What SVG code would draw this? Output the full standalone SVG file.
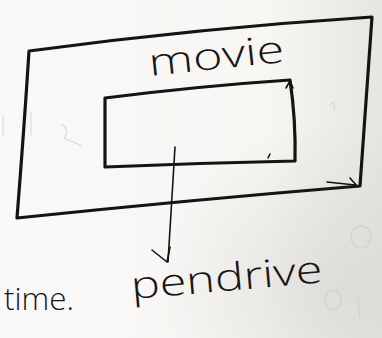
<svg xmlns="http://www.w3.org/2000/svg" width="382" height="338" viewBox="0 0 382 338">
  <defs>
    <linearGradient id="paper" x1="0" y1="0" x2="1" y2="0">
      <stop offset="0" stop-color="#fbf9f8"/>
      <stop offset="0.7" stop-color="#f7f6f3"/>
      <stop offset="1" stop-color="#e6e5df"/>
    </linearGradient>
    <radialGradient id="smudge" cx="0.9" cy="0.85" r="0.5">
      <stop offset="0" stop-color="#d8d6d2" stop-opacity="0.7"/>
      <stop offset="1" stop-color="#d8d6d2" stop-opacity="0"/>
    </radialGradient>
    <style>
      .ink { fill: none; stroke: #141414; stroke-linecap: round; stroke-linejoin: round; }
      .thick { stroke-width: 3.2; }
      .thin { stroke-width: 1.6; }
      .ghost { fill: none; stroke: #c9c6c4; stroke-width: 1.1; stroke-linecap: round; }
      .hand { fill: #161616; font-family: "Open Sans", "Liberation Sans", sans-serif; font-weight: 300; }
    </style>
  </defs>

  <!-- paper -->
  <rect x="0" y="0" width="382" height="338" fill="url(#paper)"/>
  <rect x="0" y="0" width="382" height="338" fill="url(#smudge)"/>

  <!-- faint show-through from the other side of the sheet -->
  <g opacity="0.6">
    <path class="ghost" d="M3 115 L3 135 M31 112 L31 136 M62 124 Q70 130 64 138 L82 146"/>
    <ellipse class="ghost" cx="361" cy="237" rx="10" ry="11"/>
    <ellipse class="ghost" cx="333" cy="300" rx="8" ry="10"/>
    <path class="ghost" d="M358 296 L360 318"/>
    <path class="ghost" d="M330 105 Q336 98 334 110"/>
  </g>

  <!-- outer box: movie -->
  <g id="movie">
    <path class="ink thick" d="M29 51 Q200 28 372 17 Q366 100 360 186 Q190 200 17 218 Q24 130 29 51"/>
    <path class="ink thin" d="M327 182 L355 185 M350 178 L357 186"/>
    <text class="hand" x="150" y="76" font-size="38" textLength="136" lengthAdjust="spacingAndGlyphs" transform="rotate(-6 150 76)">movie</text>
  </g>

  <!-- inner box -->
  <g id="inner">
    <path class="ink thick" d="M105 98 Q200 86 290 80 Q296 120 295 161 Q200 163 105 167 Z"/>
    <path class="ink thin" d="M286 88 L290 81 L293 88 M268 158 L270 154"/>
  </g>

  <!-- connectors -->
  <g id="connectors">
    <path class="ink thin" d="M175 147 L168 262"/>
    <path class="ink thin" d="M152 250 L167 262 L170 247"/>
  </g>

  <!-- labels -->
  <g id="pendrive">
    <text class="hand" x="132" y="299" font-size="38" textLength="192" lengthAdjust="spacingAndGlyphs" transform="rotate(-5 132 299)">pendrive</text>
  </g>
  <g id="time">
    <text class="hand" x="4" y="310" font-size="32" textLength="70" lengthAdjust="spacingAndGlyphs">time.</text>
  </g>
</svg>
